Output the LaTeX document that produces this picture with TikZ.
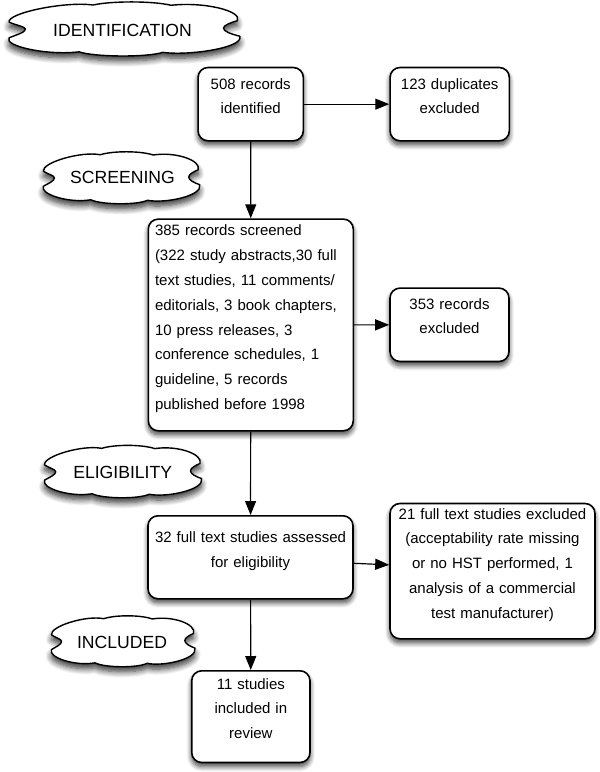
\documentclass[tikz,border=0pt]{standalone}
\usepackage{fontspec}
\setmainfont{Liberation Sans}
\usetikzlibrary{shadows.blur,arrows.meta}

% cloud outline round a phase label: #1 centre, #2 half width, #3 half height
\newcommand\phasecloud[3]{%
  \begin{scope}[shift={#1}, x=#2, y=#3]
    \draw[phase] (-0.26,0.93) .. controls (-0.5,1.08) and (-1.0,0.62) .. (-0.98,0.27)
      .. controls (-0.92,0.15) and (-0.84,0.1) .. (-0.84,0)
      .. controls (-0.84,-0.12) and (-0.92,-0.22) .. (-0.98,-0.33)
      .. controls (-1.03,-0.65) and (-0.65,-1.02) .. (-0.38,-0.87)
      .. controls (-0.25,-1.07) and (0.2,-1.09) .. (0.34,-0.89)
      .. controls (0.55,-1.03) and (1.04,-0.72) .. (1,-0.27)
      .. controls (0.92,-0.18) and (0.86,-0.08) .. (0.86,0.04)
      .. controls (0.86,0.15) and (0.92,0.25) .. (0.98,0.33)
      .. controls (1.02,0.7) and (0.7,1.06) .. (0.41,0.92)
      .. controls (0.25,1.09) and (-0.1,1.09) .. (-0.26,0.93) -- cycle;
  \end{scope}}

\begin{document}
\begin{tikzpicture}[x=1pt,y=-1pt,
  box/.style={draw, line width=1.6pt, rounded corners=10pt, fill=white, inner sep=0pt, anchor=north, align=center,
    blur shadow={shadow xshift=0pt, shadow yshift=-4pt, shadow blur radius=5pt, shadow blur steps=8, shadow opacity=75},
    font=\fontsize{15}{24.8}\selectfont},
  phase/.style={draw, line width=1.4pt, fill=white, line join=round,
    blur shadow={shadow xshift=0pt, shadow yshift=-5pt, shadow blur radius=6pt, shadow blur steps=8, shadow opacity=80}},
  label/.style={font=\fontsize{17.6}{20}\selectfont},
  arr/.style={line width=1.2pt, -{Triangle[length=14pt,width=11pt]}}]
  \useasboundingbox (0,0) rectangle (600,772);

  % phases
  \phasecloud{(123.3,29.2)}{116.5pt}{26pt}
  \phasecloud{(120.8,178)}{79pt}{25pt}
  \phasecloud{(122.3,471.8)}{79.3pt}{25.2pt}
  \phasecloud{(122.5,641.5)}{72.5pt}{24.5pt}
  \node[label] (identification) at (122.5,30) {IDENTIFICATION};
  \node[label] (screening) at (122.5,177) {SCREENING};
  \node[label] (eligibility) at (122.7,472) {ELIGIBILITY};
  \node[label] (included) at (122,642) {INCLUDED};

  % records
  \node[box, text width=105.3pt, text height=21.6pt, text depth=51.7pt] (ident) at (250.7,66.7) {508 records\\identified};
  \node[box, text width=119.3pt, text height=21.6pt, text depth=51.7pt] (dup) at (449.7,66.7) {123 duplicates\\excluded};
  \node[box, text width=191.6pt, inner xsep=6.7pt, align=left, text height=16.7pt, text depth=195pt] (screen) at (250.8,218.3)
    {385 records screened\\(322 study abstracts,30 full\\text studies, 11 comments/\\editorials, 3 book chapters,\\10 press releases, 3\\conference schedules, 1\\guideline, 5 records\\published before 1998};
  \node[box, text width=119pt, text height=21pt, text depth=52.4pt] (recexcl) at (449.5,287.3) {353 records\\excluded};
  \node[box, text width=205pt, text height=26.7pt, text depth=56.3pt] (assess) at (250.5,515) {32 full text studies assessed\\for eligibility};
  \node[box, text width=205pt, text height=15.6pt, text depth=119.7pt] (ftexcl) at (492.5,502.7)
    {21 full text studies excluded\\(acceptability rate missing\\or no HST performed, 1\\analysis of a commercial\\test manufacturer)};
  \node[box, text width=118.3pt, text height=18.3pt, text depth=73.4pt] (incl) at (250.85,670) {11 studies\\included in\\review};

  \draw[arr] (ident) -- (dup);
  \draw[arr] (ident) -- (screen);
  \draw[arr] (screen) -- (recexcl);
  \draw[arr] (screen) -- (assess);
  \draw[arr] ([yshift=-6pt]assess.east) -- ([yshift=6.3pt]ftexcl.west);
  \draw[arr] (assess) -- (incl);
\end{tikzpicture}
\end{document}
